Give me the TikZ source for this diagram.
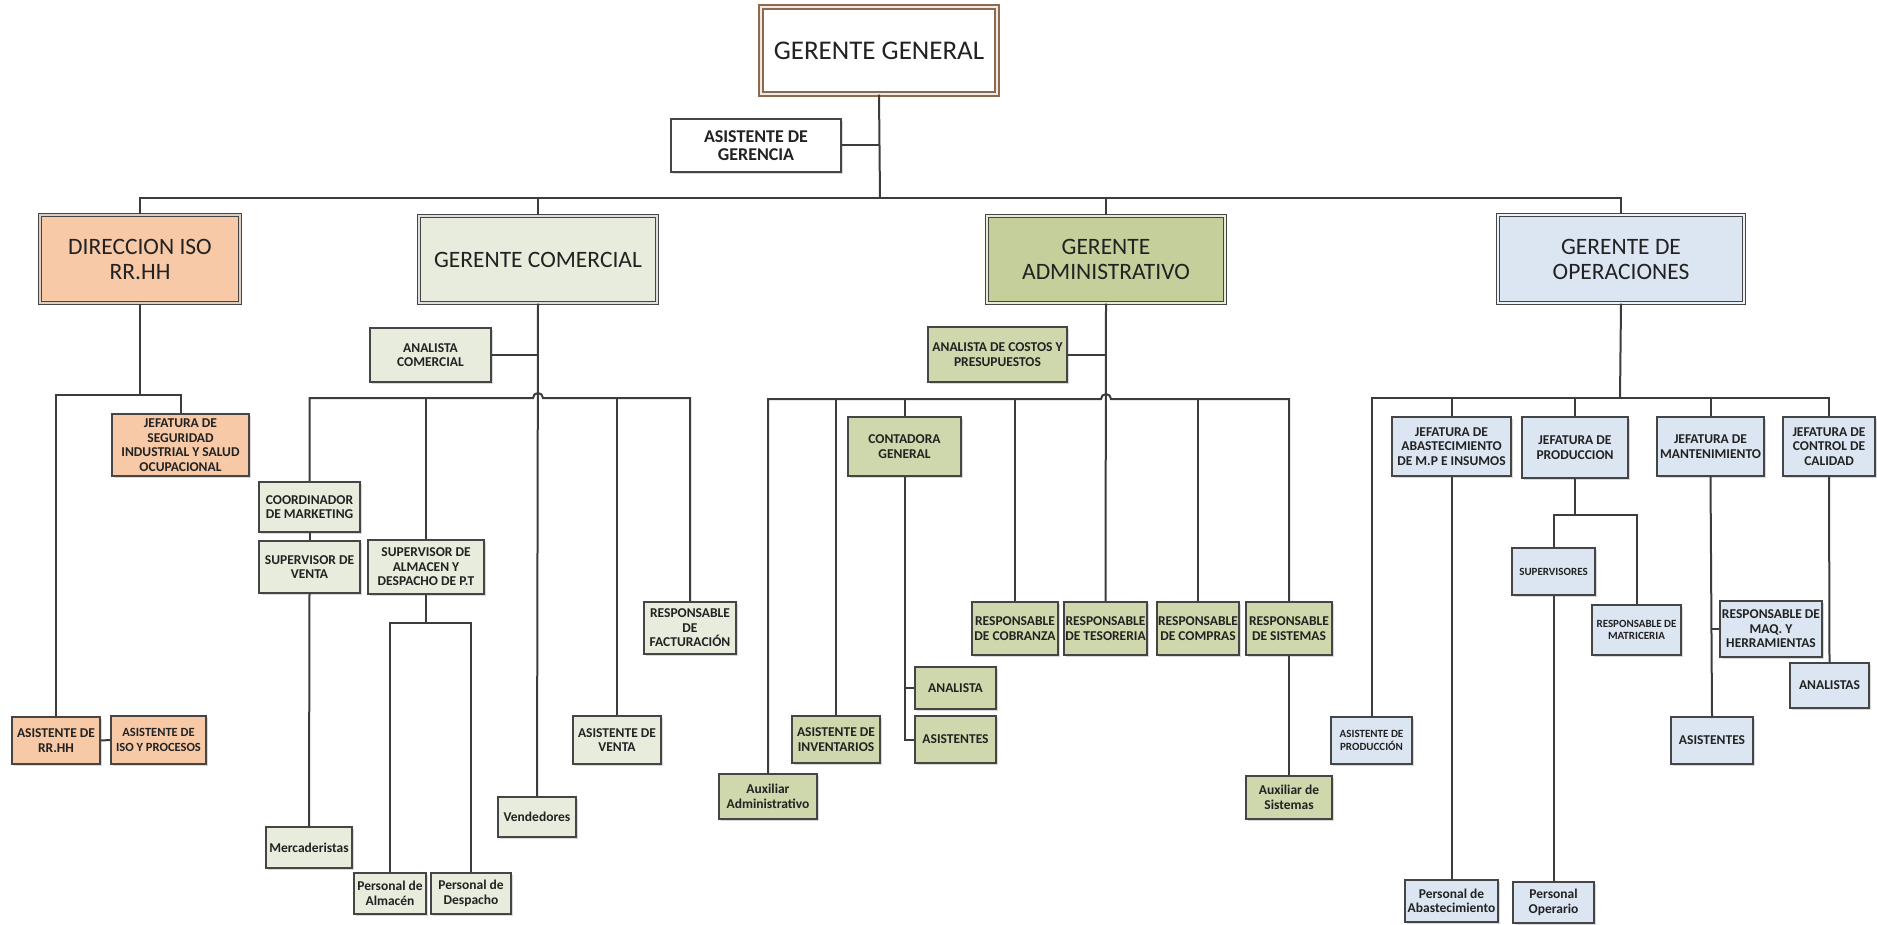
\documentclass[tikz,border=0pt]{standalone}
\usepackage{fontspec}
\setmainfont{Carlito}
\usetikzlibrary{shadows,calc}
\definecolor{peach}{HTML}{F7C9A7}
\definecolor{cgreen}{HTML}{E7ECDC}
\definecolor{agreen}{HTML}{C4CF9C}
\definecolor{agreenl}{HTML}{CFD7AD}
\definecolor{oblue}{HTML}{DCE6F2}
\definecolor{bord}{HTML}{454545}
\definecolor{linec}{HTML}{3C3C3C}
\definecolor{txt}{HTML}{222222}
\definecolor{ggb}{HTML}{8C6A4F}
\tikzset{
  conn/.style={draw=linec, line width=2pt},
  boxbase/.style={rectangle, inner sep=0pt, align=center, text=txt,
    drop shadow={shadow xshift=2pt, shadow yshift=-2pt, opacity=0.3}},
  smbox/.style={boxbase, draw=bord, line width=1.4pt, font=\fontsize{13.5}{14.5}\selectfont\bfseries},
  smxbox/.style={smbox, font=\fontsize{11}{12.5}\selectfont\bfseries},
  agbox/.style={smbox, fill=white, font=\fontsize{18}{18.5}\selectfont\bfseries},
  bigbox/.style={boxbase, draw=bord, line width=1.3pt, double distance=2.2pt, font=\fontsize{23.5}{25}\selectfont},
  ggbox/.style={boxbase, draw=ggb, line width=1.4pt, double=ggb!15, double distance=2.5pt, fill=white,
    font=\fontsize{27}{28}\selectfont,
    general shadow={fill=orange!50, shadow scale=1.02, opacity=0.35}},
}
\newcommand\obox[7]{\node[#1, minimum width={(#5-#3)*1pt}, minimum height={(#6-#4)*1pt}] (#2) at ({(#3+#5)/2},{(#4+#6)/2}) {#7};}
\begin{document}
\begin{tikzpicture}[x=1pt,y=-1pt]
\useasboundingbox (0,0) rectangle (1877,925);
% top
\obox{ggbox}{gg}{761}{7}{997}{94}{GERENTE GENERAL}
\obox{agbox}{ag}{671}{119}{841}{172}{ASISTENTE DE\\GERENCIA}
% level 2
\obox{bigbox,fill=peach,double=peach!60!gray!60}{dir}{40}{215}{240}{303}{DIRECCION ISO\\RR.HH}
\obox{bigbox,fill=cgreen,double=gray!25}{gc}{419}{216}{657}{303}{GERENTE COMERCIAL}
\obox{bigbox,fill=agreen,double=agreen!40}{ga}{987}{216}{1225}{303}{GERENTE\\ADMINISTRATIVO}
\obox{bigbox,fill=oblue,double=oblue!50}{go}{1498}{215}{1744}{303}{GERENTE DE\\OPERACIONES}
% RRHH branch
\obox{smbox,fill=peach}{js}{112}{414}{249}{476}{JEFATURA DE\\SEGURIDAD\\INDUSTRIAL Y SALUD\\OCUPACIONAL}
\obox{smbox,fill=peach}{asrr}{12}{717}{100}{764}{ASISTENTE DE\\RR.HH}
\obox{smbox,fill=peach,font=\fontsize{12.5}{14.5}\selectfont\bfseries}{asiso}{111}{716}{206}{764}{ASISTENTE DE\\ISO Y PROCESOS}
% commercial branch
\obox{smbox,fill=cgreen}{ac}{370}{328}{491}{382}{ANALISTA\\COMERCIAL}
\obox{smbox,fill=cgreen}{cm}{259}{482}{360}{532}{COORDINADOR\\DE MARKETING}
\obox{smbox,fill=cgreen}{sv}{259}{541}{360}{593}{SUPERVISOR DE\\VENTA}
\obox{smbox,fill=cgreen}{sa}{368}{540}{484}{594}{SUPERVISOR DE\\ALMACEN Y\\DESPACHO DE P.T}
\obox{smbox,fill=cgreen}{rf}{644}{602}{736}{654}{RESPONSABLE\\DE\\FACTURACIÓN}
\obox{smbox,fill=cgreen}{av}{573}{716}{661}{764}{ASISTENTE DE\\VENTA}
\obox{smbox,fill=cgreen}{merc}{266}{827}{352}{868}{Mercaderistas}
\obox{smbox,fill=cgreen}{pa}{354}{873}{426}{914}{Personal de\\Almacén}
\obox{smbox,fill=cgreen}{pd}{431}{873}{511}{914}{Personal de\\Despacho}
\obox{smbox,fill=cgreen}{vend}{498}{797}{576}{837}{Vendedores}
% administrative branch
\obox{smbox,fill=agreenl}{acp}{928}{327}{1067}{382}{ANALISTA DE COSTOS Y\\PRESUPUESTOS}
\obox{smbox,fill=agreenl}{cg}{848}{417}{961}{476}{CONTADORA\\GENERAL}
\obox{smbox,fill=agreenl}{rc}{972}{602}{1058}{655}{RESPONSABLE\\DE COBRANZA}
\obox{smbox,fill=agreenl}{rt}{1064}{602}{1147}{655}{RESPONSABLE\\DE TESORERIA}
\obox{smbox,fill=agreenl}{rcp}{1157}{602}{1239}{655}{RESPONSABLE\\DE COMPRAS}
\obox{smbox,fill=agreenl}{rs}{1246}{602}{1332}{655}{RESPONSABLE\\DE SISTEMAS}
\obox{smbox,fill=agreenl}{an}{915}{667}{996}{709}{ANALISTA}
\obox{smbox,fill=agreenl}{asg}{915}{716}{996}{763}{ASISTENTES}
\obox{smbox,fill=agreenl}{ai}{792}{716}{880}{763}{ASISTENTE DE\\INVENTARIOS}
\obox{smbox,fill=agreenl}{aa}{719}{774}{817}{819}{Auxiliar\\Administrativo}
\obox{smbox,fill=agreenl}{ax}{1246}{776}{1332}{819}{Auxiliar de\\Sistemas}
% operations branch
\obox{smbox,fill=oblue}{ja}{1392}{417}{1511}{476}{JEFATURA DE\\ABASTECIMIENTO\\DE M.P E INSUMOS}
\obox{smbox,fill=oblue}{jp}{1522}{417}{1628}{478}{JEFATURA DE\\PRODUCCION}
\obox{smbox,fill=oblue}{jm}{1657}{417}{1764}{476}{JEFATURA DE\\MANTENIMIENTO}
\obox{smbox,fill=oblue}{jc}{1783}{417}{1875}{476}{JEFATURA DE\\CONTROL DE\\CALIDAD}
\obox{smxbox,fill=oblue}{sup}{1512}{548}{1595}{595}{SUPERVISORES}
\obox{smxbox,fill=oblue}{rm}{1592}{605}{1681}{655}{RESPONSABLE DE\\MATRICERIA}
\obox{smbox,fill=oblue}{rmq}{1720}{601}{1822}{657}{RESPONSABLE DE\\MAQ. Y\\HERRAMIENTAS}
\obox{smxbox,fill=oblue}{ap}{1331}{717}{1412}{764}{ASISTENTE DE\\PRODUCCIÓN}
\obox{smbox,fill=oblue}{aso}{1671}{717}{1753}{764}{ASISTENTES}
\obox{smbox,fill=oblue}{anl}{1790}{663}{1869}{708}{ANALISTAS}
\obox{smbox,fill=oblue}{pab}{1405}{880}{1498}{922}{Personal de\\Abastecimiento}
\obox{smbox,fill=oblue}{po}{1513}{882}{1594}{923}{Personal\\Operario}
% bus coordinates
\coordinate (topbus) at (880,198);
\coordinate (dirbus) at (138,395);
\coordinate (gcbus) at (538,398);
\coordinate (sabus) at (426,623);
\coordinate (gabus) at (1106,399);
\coordinate (gobus) at (1620,398);
\coordinate (prodbus) at (1575,515);
% top connectors
\draw[conn] (gg.south) -- (topbus);
\draw[conn] (ag.east) -- (ag.east -| gg.south);
\draw[conn] (dir.north) -- (dir.north |- topbus) -- (go.north |- topbus) -- (go.north);
\draw[conn] (gc.north |- topbus) -- (gc.north);
\draw[conn] (ga.north |- topbus) -- (ga.north);
% RRHH
\draw[conn] (dir.south) -- (dir.south |- dirbus);
\draw[conn] (asrr.north) -- (asrr.north |- dirbus) -- (js.north |- dirbus) -- (js.north);
\draw[conn] (asrr.east) -- (asiso.west);
% commercial
\draw[conn] (ac.east) -- (ac.east -| gc.south);
\draw[conn] (gc.south) -- (vend.north);
\draw[conn] (cm.north) -- (cm.north |- gcbus) -- ($(gc.south |- gcbus)+(-5,0)$)
  arc[start angle=180, end angle=360, radius=5] -- (rf.north |- gcbus) -- (rf.north);
\draw[conn] (sa.north |- gcbus) -- (sa.north);
\draw[conn] (av.north |- gcbus) -- (av.north);
\draw[conn] (cm.south) -- (sv.north);
\draw[conn] (sv.south) -- (merc.north);
\draw[conn] (sa.south) -- (sabus);
\draw[conn] (pa.north) -- (pa.north |- sabus) -- (pd.north |- sabus) -- (pd.north);
% administrative
\draw[conn] (acp.east) -- (acp.east -| ga.south);
\draw[conn] (ga.south) -- (rt.north);
\draw[conn] (aa.north) -- (aa.north |- gabus) -- ($(ga.south |- gabus)+(-5,0)$)
  arc[start angle=180, end angle=360, radius=5] -- (rs.north |- gabus) -- (rs.north);
\draw[conn] (ai.north |- gabus) -- (ai.north);
\draw[conn] (cg.north |- gabus) -- (cg.north);
\draw[conn] (rc.north |- gabus) -- (rc.north);
\draw[conn] (rcp.north |- gabus) -- (rcp.north);
\draw[conn] (cg.south) |- (an.west);
\draw[conn] (cg.south) |- (asg.west);
\draw[conn] (rs.south) -- (ax.north);
% operations
\draw[conn] (go.south) -- (gobus);
\draw[conn] (ap.north) -- (ap.north |- gobus) -- (jc.north |- gobus) -- (jc.north);
\draw[conn] (ja.north |- gobus) -- (ja.north);
\draw[conn] (jp.north |- gobus) -- (jp.north);
\draw[conn] (jm.north |- gobus) -- (jm.north);
\draw[conn] (ja.south) -- (pab.north);
\draw[conn] (jp.south) -- (prodbus);
\draw[conn] (sup.north) -- (sup.north |- prodbus) -- (rm.north |- prodbus) -- (rm.north);
\draw[conn] (sup.south) -- (po.north);
\draw[conn] (jm.south) -- (aso.north);
\draw[conn] (jm.south |- rmq.west) -- (rmq.west);
\draw[conn] (jc.south) -- (anl.north);
\end{tikzpicture}
\end{document}
